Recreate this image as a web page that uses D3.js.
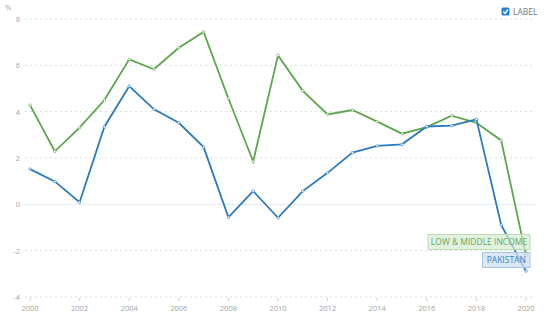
<!DOCTYPE html>
<html><head><meta charset="utf-8">
<script src="https://cdn.jsdelivr.net/npm/d3@7"></script>
<style>body{margin:0;background:#fff}svg{display:block;font-family:"Open Sans",sans-serif}</style>
</head><body><svg id="c" width="545" height="330"></svg>
<script>
const years = [2000,2001,2002,2003,2004,2005,2006,2007,2008,2009,2010,2011,2012,2013,2014,2015,2016,2017,2018,2019,2020];
const pakistan = [1.52,0.99,0.09,3.35,5.10,4.10,3.52,2.47,-0.56,0.57,-0.58,0.57,1.36,2.23,2.52,2.59,3.36,3.40,3.67,-0.89,-2.88];
const lowMiddle = [4.28,2.29,3.31,4.50,6.26,5.83,6.76,7.44,4.57,1.85,6.43,4.90,3.88,4.07,3.57,3.05,3.33,3.83,3.52,2.76,-2.2];
const yTicks = [-4,-2,0,2,4,6,8];
const xTicks = [2000,2002,2004,2006,2008,2010,2012,2014,2016,2018,2020];
const seriesNames = ["PAKISTAN","LOW & MIDDLE INCOME"];
const colors = ["#2c7bbf","#5fa651"];

const svg = d3.select("#c");
const x = d3.scaleLinear().domain([2000,2020]).range([30,526]);
const y = d3.scaleLinear().domain([-4,8]).range([297,19]);

// grid
yTicks.forEach(t=>{
  svg.append("line").attr("x1",25).attr("x2",535).attr("y1",y(t)).attr("y2",y(t))
    .attr("stroke", t===0 ? "#e3eaf0" : "#dcdcdc")
    .attr("stroke-width",1)
    .attr("stroke-dasharray", t===0 ? null : "2,3");
  svg.append("text").attr("x",20).attr("y",y(t)+3).attr("text-anchor","end")
    .attr("font-size",7.5).attr("fill","#a3a3a3").text(t);
});
svg.append("text").attr("x",5).attr("y",10).attr("font-size",7.5).attr("fill","#a3a3a3").text("%");

xTicks.forEach(t=>{
  svg.append("line").attr("x1",x(t)).attr("x2",x(t)).attr("y1",y(-4)+1).attr("y2",y(-4)+4)
    .attr("stroke","#ccc");
  svg.append("text").attr("x",x(t)).attr("y",311).attr("text-anchor","middle")
    .attr("font-size",7.5).attr("fill","#a3a3a3").text(t);
});

const line = d3.line().x((d,i)=>x(years[i])).y(d=>y(d));
[lowMiddle,pakistan].forEach((s,k)=>{
  const c = k===0 ? colors[1] : colors[0];
  svg.append("path").datum(s).attr("d",line).attr("fill","none").attr("stroke",c).attr("stroke-width",1.8);
  svg.selectAll(null).data(s).enter().append("circle")
    .attr("cx",(d,i)=>x(years[i])).attr("cy",d=>y(d)).attr("r",1.3)
    .attr("fill","#fff").attr("stroke",c).attr("stroke-width",0.6);
});

// end labels
function label(txt, x0, y0, w, h, fill, stroke, col){
  svg.append("rect").attr("x",x0).attr("y",y0).attr("width",w).attr("height",h)
    .attr("fill",fill).attr("stroke",stroke).attr("stroke-width",1);
  svg.append("text").attr("x",x0+w/2).attr("y",y0+h/2+3).attr("text-anchor","middle")
    .attr("font-size",8.5).attr("fill",col).text(txt);
}
label(seriesNames[1],428,234.5,102,15,"rgba(215,235,210,0.7)","#bcdcb4","#68a85e");
label(seriesNames[0],482.5,252.5,47.5,15,"rgba(205,224,242,0.75)","#a8c6e4","#3a80bf");

// legend
svg.append("rect").attr("x",501.5).attr("y",7.5).attr("width",8).attr("height",8).attr("rx",1.5).attr("fill","#2b7ed6");
svg.append("path").attr("d","M503.3,11.6 L505.1,13.4 L508,9.5").attr("fill","none").attr("stroke","#fff").attr("stroke-width",1.4);
svg.append("text").attr("x",513).attr("y",14.5).attr("font-size",8.5).attr("fill","#777").text("LABEL");
</script></body></html>
